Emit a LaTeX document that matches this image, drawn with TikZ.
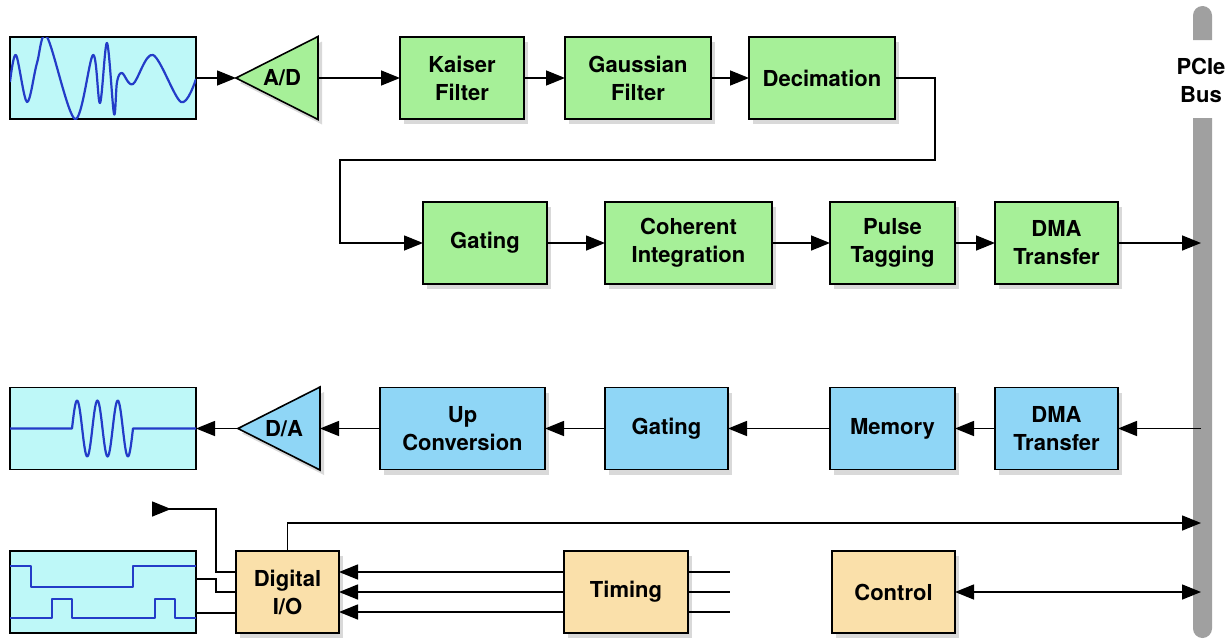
\documentclass[tikz,border=0pt]{standalone}
\usepackage{fontspec}
\setmainfont{TeX Gyre Heros}
\usetikzlibrary{arrows.meta,shapes.geometric,positioning,shadows}
\definecolor{rxgreen}{RGB}{166,240,152}
\definecolor{txblue}{RGB}{143,214,246}
\definecolor{iotan}{RGB}{250,224,170}
\definecolor{scopecyan}{RGB}{190,248,248}
\definecolor{traceblue}{RGB}{35,60,200}
\definecolor{busgray}{RGB}{160,160,160}
\tikzset{
  basic/.style  = {draw, line width=1.6pt, rectangle, inner sep=0pt, outer sep=0pt, align=center,
                   minimum height=82pt, font=\fontsize{22}{28}\selectfont\bfseries,
                   drop shadow={shadow xshift=4pt, shadow yshift=-5pt, opacity=0.3}},
  rx/.style     = {basic, fill=rxgreen},
  tx/.style     = {basic, fill=txblue},
  io/.style     = {basic, fill=iotan},
  conv/.style   = {draw, line width=1.6pt, isosceles triangle, isosceles triangle stretches,
                   shape border rotate=180, minimum width=83pt, minimum height=82pt,
                   inner sep=0pt, outer sep=0pt,
                   drop shadow={shadow xshift=4pt, shadow yshift=-5pt, opacity=0.3}},
  scope box/.style = {draw, line width=1.6pt, fill=scopecyan, minimum width=186pt,
                   minimum height=82pt, inner sep=0pt, outer sep=0pt},
  trace/.style  = {draw=traceblue, line width=2.2pt, line join=round},
  lbl/.style    = {align=center, inner sep=0pt, font=\fontsize{22}{28}\selectfont\bfseries},
  back tip/.style = {-{Triangle[length=19pt,width=15pt,reversed]}}
}

\begin{document}
\begin{tikzpicture}[x=1pt, y=-1pt, line width=1.5pt,
  >={Triangle[length=19pt,width=15pt]}]
\useasboundingbox (0,0) rectangle (1230,640);

% receive path, first row
\node[scope box] (win) at (103,78) {};
\node[conv, fill=rxgreen, anchor=apex] (ad) at (236,78) {};
\node[lbl] (adl) at ([xshift=-36pt]ad.lower side) {A/D};
\node[rx, minimum width=124pt] (rx1) at (462,78) {Kaiser\\Filter};
\node[rx, minimum width=146pt, right=41pt of rx1] (rx2) {Gaussian\\Filter};
\node[rx, minimum width=146pt, right=38pt of rx2] (rx3) {Decimation};

% receive path, second row
\node[rx, minimum width=124pt] (rx4) at (485,243) {Gating};
\node[rx, minimum width=167pt, right=58pt of rx4] (rx5) {Coherent\\Integration};
\node[rx, minimum width=125pt, right=58pt of rx5] (rx6) {Pulse\\Tagging};
\node[rx, minimum width=123pt, right=40pt of rx6] (rx7) {DMA\\Transfer};

% transmit path
\node[tx, minimum width=123pt] (tx1) at (1056.5,428.5) {DMA\\Transfer};
\node[tx, minimum width=125pt, left=40pt of tx1] (tx2) {Memory};
\node[tx, minimum width=123pt, left=102pt of tx2] (tx3) {Gating};
\node[tx, minimum width=165pt, left=60pt of tx3] (tx4) {Up\\Conversion};
\node[conv, fill=txblue, anchor=apex] (da) at (238,428.5) {};
\node[lbl] (dal) at ([xshift=-36pt]da.lower side) {D/A};
\node[scope box] (wout) at (103,428.5) {};

% digital i/o, timing and control
\node[scope box] (wdig) at (103,592) {};
\node[io, minimum width=103pt] (dio) at (287.5,592) {Digital\\I/O};
\node[io, minimum width=124pt] (tim) at (626,592) {Timing};
\node[io, minimum width=123pt] (ctl) at (893.5,592) {Control};
\coordinate (trig) at (152,509);

% the bus
\coordinate (bus) at (1201,378);
\fill[busgray] (1193,40) -- (1193,15.5) arc[start angle=180, end angle=0, radius=9.5pt]
  -- (1212,40) -- cycle;
\fill[busgray] (1193,118) -- (1193,628.5) arc[start angle=180, end angle=360, radius=9.5pt]
  -- (1212,118) -- cycle;
\node[lbl] (pcie) at (1201,80) {PCIe\\Bus};

% traces in the scope boxes
\begin{scope}
\clip (win.south west) rectangle (win.north east);
\draw[trace] plot[smooth, tension=0.55] coordinates {(10,82) (16,55) (27,102) (37,63)
  (47,37) (75,119) (93,55) (100,103) (107,43) (114,114) (117,82) (122,73) (133,84)
  (153,55) (181,102) (196,79)};
\end{scope}
\draw[trace] (10,428.5) -- (72,428.5)
  -- plot[domain=72:133, samples=80] (\x,{428.5-28*sin(17.708*(\x-72))})
  -- (196,428.5);
\draw[trace] (10,566) -- (31,566) -- (31,587) -- (133,587) -- (133,566) -- (196,566);
\draw[trace] (10,618) -- (52,618) -- (52,599) -- (72,599) -- (72,618) -- (155,618)
  -- (155,599) -- (175,599) -- (175,618) -- (196,618);

% receive connectors
\draw[->] (win.east) -- (ad.apex);
\draw[->] (ad.lower side) -- (rx1.west);
\foreach \value/\next in {1/2,2/3,4/5,5/6,6/7}
  \draw[->] (rx\value.east) -- (rx\next.west);
\draw[->] (rx3.east) -- ++(40,0) -- ++(0,82) -| ([xshift=-83pt]rx4.west) -- (rx4.west);
\draw[->] (rx7.east) -- (rx7.east -| bus);

% transmit connectors
\draw[->] (tx1.east -| bus) -- (tx1.east);
\foreach \value/\next in {1/2,2/3,3/4}
  \draw[->] (tx\value.west) -- (tx\next.east);
\draw[->] (tx4.west) -- (da.lower side);
\draw[->] (da.apex) -- (wout.east);

% digital lines
\foreach \dy in {20,0,-20} {
  \draw[->] ([yshift=\dy pt]tim.west) -- ([yshift=\dy pt]dio.east);
  \draw ([yshift=\dy pt]tim.east) -- ++(42,0);
}
\draw[back tip] ([yshift=20pt]dio.west) -- ++(-20,0) |- (trig);
\draw ([yshift=13pt]wdig.east) -- ++(20,0) |- (dio.west);
\draw ([yshift=-21pt]wdig.east) -- ([yshift=-21pt]dio.west);
\draw[->] (dio.north) |- (bus |- 0,523);
\draw[<->] (ctl.east) -- (ctl.east -| bus);

\end{tikzpicture}
\end{document}
